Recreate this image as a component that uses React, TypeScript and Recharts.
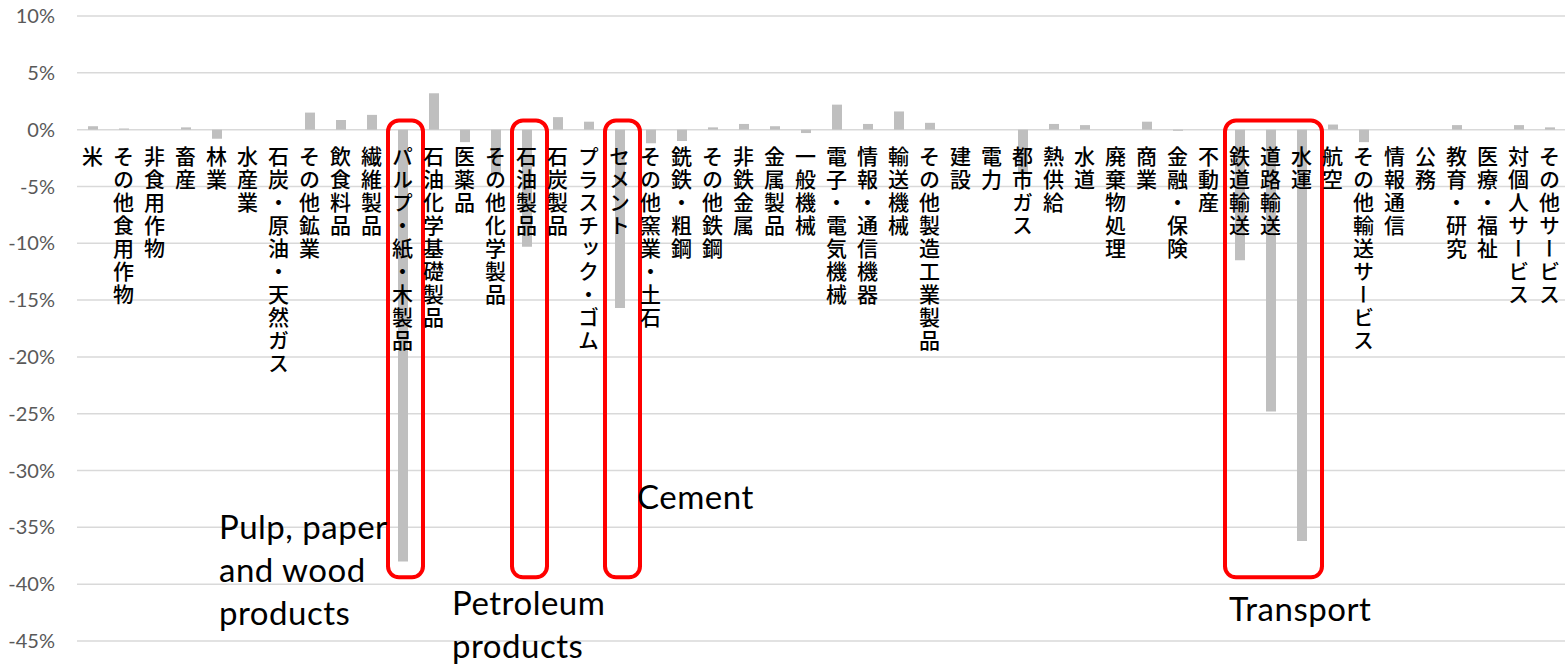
import React from 'react';
import { BarChart, Bar, XAxis, YAxis, CartesianGrid, ReferenceArea } from 'recharts';

const sectors = [
  '米', 'その他食用作物', '非食用作物', '畜産', '林業', '水産業', '石炭・原油・天然ガス', 'その他鉱業',
  '飲食料品', '繊維製品', 'パルプ・紙・木製品', '石油化学基礎製品', '医薬品', 'その他化学製品', '石油製品',
  '石炭製品', 'プラスチック・ゴム', 'セメント', 'その他窯業・土石', '銑鉄・粗鋼', 'その他鉄鋼', '非鉄金属',
  '金属製品', '一般機械', '電子・電気機械', '情報・通信機器', '輸送機械', 'その他製造工業製品', '建設',
  '電力', '都市ガス', '熱供給', '水道', '廃棄物処理', '商業', '金融・保険', '不動産', '鉄道輸送',
  '道路輸送', '水運', '航空', 'その他輸送サービス', '情報通信', '公務', '教育・研究', '医療・福祉',
  '対個人サービス', 'その他サービス',
];

const changes = [
  0.3, 0.1, 0, 0.2, -0.8, 0, 0, 1.5,
  0.85, 1.3, -38.0, 3.2, -1.1, -4.0, -10.3,
  1.1, 0.7, -15.7, -1.2, -1.0, 0.2, 0.5,
  0.3, -0.3, 2.2, 0.5, 1.6, 0.6, 0,
  0, -3.8, 0.5, 0.4, 0, 0.7, -0.1, 0, -11.5,
  -24.8, -36.2, 0.45, -1.1, 0, 0, 0.4, 0,
  0.4, 0.2,
];

const yTicks = [10, 5, 0, -5, -10, -15, -20, -25, -30, -35, -40, -45];

// highlighted groups: first and last sector in each box
const highlights = [
  ['パルプ・紙・木製品', 'パルプ・紙・木製品'],
  ['石油製品', '石油製品'],
  ['セメント', 'セメント'],
  ['鉄道輸送', '水運'],
];

const notes = [
  { text: 'Pulp, paper\nand wood\nproducts', left: 219, top: 505 },
  { text: 'Petroleum\nproducts', left: 452, top: 581 },
  { text: 'Cement', left: 637, top: 475 },
  { text: 'Transport', left: 1229, top: 587 },
];

const data = sectors.map((name, i) => ({ name, value: changes[i] }));

const W = 1565;
const H = 664;
const margin = { top: 16, right: 0, bottom: 22, left: 0 };
const xAxisH = 1;
const plotH = H - margin.top - margin.bottom - xAxisH;
const zeroY = margin.top + plotH * (10 / 55);

const SectorTick = (props: any) => {
  const { x, payload } = props;
  return (
    <text
      x={x}
      y={zeroY + 16}
      fill="#000"
      fontSize={21}
      fontWeight={500}
      fontFamily="'Noto Sans CJK JP', sans-serif"
      letterSpacing={2}
      style={{ writingMode: 'vertical-rl', textOrientation: 'upright' } as any}
    >
      {payload.value}
    </text>
  );
};

const Box = (props: any) => {
  const { x, y, width, height } = props;
  return (
    <rect
      x={x + 1}
      y={y}
      width={width + 4}
      height={height}
      rx={11}
      ry={11}
      fill="none"
      stroke="#ff0000"
      strokeWidth={4}
    />
  );
};

export default function App() {
  return (
    <div style={{ position: 'absolute', left: 0, top: 0, width: W, height: H, background: '#fff' }}>
      <BarChart width={W} height={H} data={data} margin={margin}>
        <CartesianGrid vertical={false} stroke="#d9d9d9" strokeWidth={1.5} />
        <XAxis
          dataKey="name"
          height={xAxisH}
          axisLine={false}
          tickLine={false}
          interval={0}
          tick={<SectorTick />}
        />
        <YAxis
          width={77}
          domain={[-45, 10]}
          ticks={yTicks}
          axisLine={false}
          tickLine={false}
          tickMargin={16}
          tickFormatter={(v: number) => `${v}%`}
          tick={{ fill: '#595959', fontSize: 20, fontFamily: 'Lato' }}
        />
        <Bar dataKey="value" fill="#bfbfbf" barSize={10} isAnimationActive={false} />
        {highlights.map(([a, b]) => (
          <ReferenceArea key={a} x1={a} x2={b} y1={-39.4} y2={0.8} shape={<Box />} />
        ))}
      </BarChart>
      {notes.map((n) => (
        <div
          key={n.text}
          style={{
            position: 'absolute',
            left: n.left,
            top: n.top,
            fontFamily: 'Lato',
            fontSize: 33,
            letterSpacing: 0.5,
            lineHeight: '43px',
            color: '#000',
            whiteSpace: 'pre',
          }}
        >
          {n.text}
        </div>
      ))}
    </div>
  );
}
